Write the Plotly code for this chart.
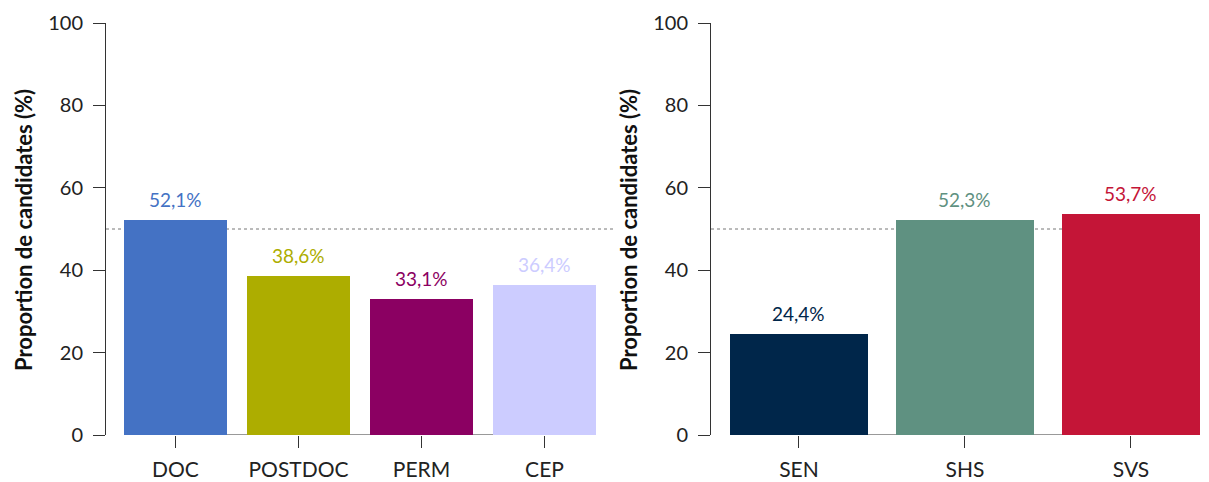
import plotly.graph_objects as go

# ---- data ----
status_categories = ["DOC", "POSTDOC", "PERM", "CEP"]
status_values = [52.1, 38.6, 33.1, 36.4]
status_colors = ["#4472C4", "#ADAD00", "#8B0062", "#CCCCFF"]

field_categories = ["SEN", "SHS", "SVS"]
field_values = [24.4, 52.3, 53.7]
field_colors = ["#00264A", "#5F9181", "#C41537"]

y_ticks = [0, 20, 40, 60, 80, 100]
y_title = "Proportion de candidates (%)"
reference_level = 50

# page body has an 8px margin; figure sized to fit the 1209x482 window
OFF = 8
W, H = 1209 - OFF, 482 - OFF
FONT = "Lato, 'Century Gothic', sans-serif"
AX = "#333333"

def px(x):
    return (x - OFF) / W

def py(y):
    return 1 - (y - OFF) / H

def fmt(v):
    return f"{v:.1f}".replace(".", ",") + "%"

fig = go.Figure()

panels = [
    dict(cats=status_categories, vals=status_values, cols=status_colors,
         xa="x", ya="y", width=0.837, dom=[px(106), px(613)], rng=[-0.565, 3.557]),
    dict(cats=field_categories, vals=field_values, cols=field_colors,
         xa="x2", ya="y2", width=0.83, dom=[px(711), px(1207)], rng=[-0.530, 2.458]),
]

ydom = [py(435), py(23)]

for i, p in enumerate(panels):
    fig.add_trace(go.Bar(
        x=list(range(len(p["cats"]))), y=p["vals"],
        marker=dict(color=p["cols"], line=dict(width=0)),
        width=p["width"], xaxis=p["xa"], yaxis=p["ya"],
        showlegend=False, hoverinfo="skip",
    ))
    for j, (v, c) in enumerate(zip(p["vals"], p["cols"])):
        fig.add_annotation(x=j, y=v, xref=p["xa"], yref=p["ya"], text=fmt(v),
                           showarrow=False, yanchor="bottom", yshift=7,
                           font=dict(family=FONT, size=19, color=c))
    # dotted reference line
    fig.add_shape(type="line", xref=f"{p['xa']} domain", yref=p["ya"],
                  x0=0, x1=1, y0=reference_level, y1=reference_level,
                  line=dict(color="#777777", width=1, dash="dot"), layer="below")
    # x baseline spanning bars
    n = len(p["cats"])
    fig.add_shape(type="line", xref=p["xa"], yref=p["ya"],
                  x0=-p["width"] / 2, x1=n - 1 + p["width"] / 2, y0=0, y1=0,
                  line=dict(color=AX, width=1), layer="below")

    axis_x = dict(domain=p["dom"], range=p["rng"], tickmode="array",
                  tickvals=list(range(n)), ticktext=p["cats"],
                  ticks="outside", ticklen=12, tickcolor=AX, tickwidth=1,
                  showline=False, showgrid=False, zeroline=False,
                  ticklabelstandoff=4, automargin=False,
                  tickfont=dict(family=FONT, size=21, color="#222222"),
                  anchor=p["ya"], fixedrange=True)
    axis_y = dict(domain=ydom, range=[0, 100], tickmode="array", tickvals=y_ticks,
                  ticks="outside", ticklen=12, tickcolor=AX, tickwidth=1,
                  showline=True, linecolor=AX, linewidth=1,
                  showgrid=False, zeroline=False, ticklabelstandoff=6,
                  automargin=False,
                  tickfont=dict(family=FONT, size=20, color="#222222"),
                  anchor=p["xa"], fixedrange=True)
    suffix = "" if i == 0 else "2"
    fig.update_layout(**{f"xaxis{suffix}": axis_x, f"yaxis{suffix}": axis_y})

for xc in [23, 628]:
    fig.add_annotation(x=px(xc), y=py(230), xref="paper", yref="paper",
                       text=f"<b>{y_title}</b>", textangle=-90, showarrow=False,
                       xanchor="center", yanchor="middle",
                       font=dict(family=FONT, size=22, color="#111111"))

fig.update_layout(width=W, height=H, margin=dict(l=0, r=0, t=0, b=0),
                  paper_bgcolor="white", plot_bgcolor="white", bargap=0)

fig.write_html("out.html")
